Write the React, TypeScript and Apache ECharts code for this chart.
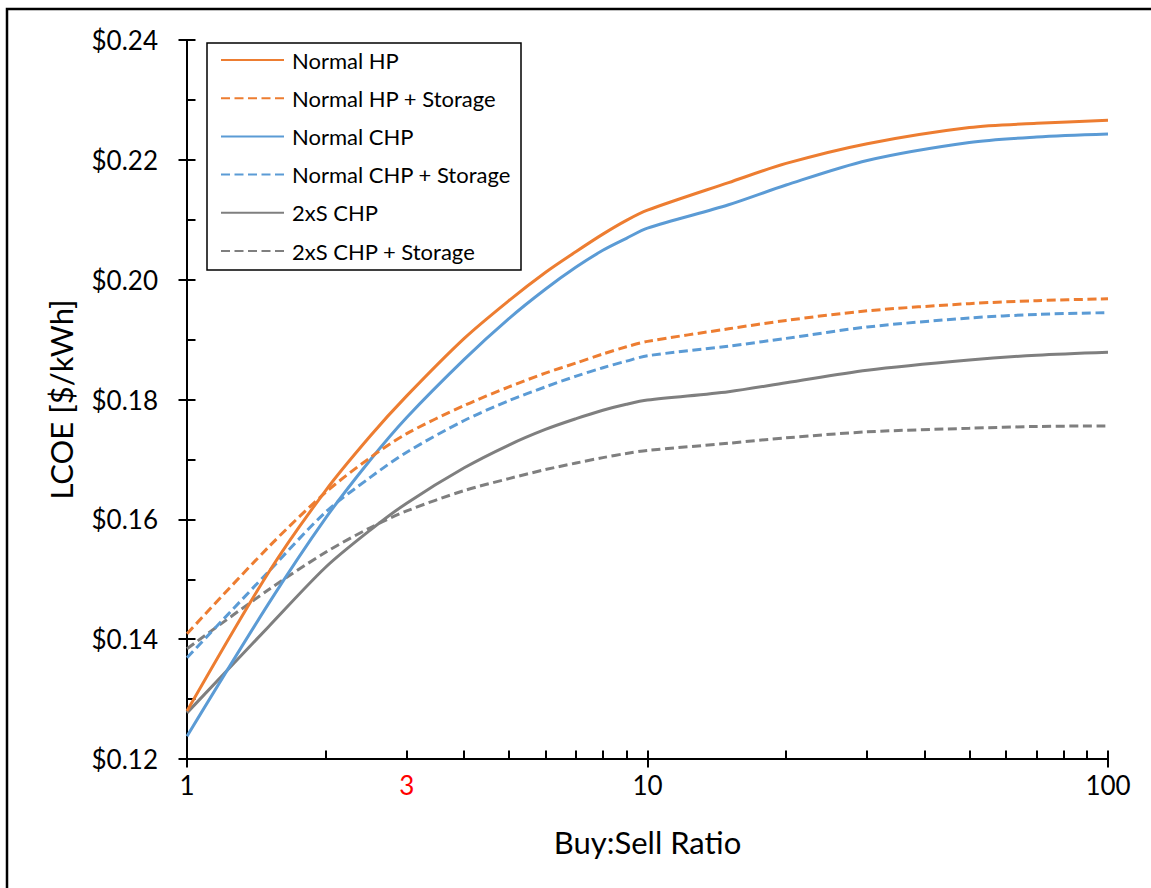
import React, { useEffect, useRef } from "react";
import * as echarts from "echarts";

const ratios = [1, 1.5, 2, 2.5, 3, 4, 5, 6, 7, 8, 9, 10, 15, 20, 30, 50, 70, 100];

const normalHP = [0.128, 0.151, 0.1648, 0.1739, 0.1806, 0.1902, 0.1965, 0.2012, 0.2047, 0.2076, 0.2099, 0.2116, 0.2162, 0.2194, 0.2227, 0.2254, 0.2261, 0.2266];
const normalHPStorage = [0.1409, 0.1553, 0.1645, 0.1703, 0.1743, 0.179, 0.1821, 0.1844, 0.1861, 0.1876, 0.1888, 0.1897, 0.1918, 0.1932, 0.1948, 0.196, 0.1965, 0.1968];
const normalCHP = [0.1238, 0.1458, 0.1602, 0.1699, 0.177, 0.1867, 0.1935, 0.1984, 0.2021, 0.2049, 0.2069, 0.2086, 0.2125, 0.2158, 0.2199, 0.2229, 0.2238, 0.2243];
const normalCHPStorage = [0.1369, 0.1512, 0.1612, 0.167, 0.1712, 0.1765, 0.1798, 0.1821, 0.1839, 0.1853, 0.1864, 0.1873, 0.1889, 0.1902, 0.1921, 0.1936, 0.1942, 0.1945];
const twoXSCHP = [0.1277, 0.142, 0.152, 0.1582, 0.1627, 0.1686, 0.1724, 0.175, 0.1768, 0.1782, 0.1792, 0.1799, 0.1813, 0.1828, 0.1849, 0.1866, 0.1874, 0.1879];
const twoXSCHPStorage = [0.1384, 0.1482, 0.1545, 0.1586, 0.1614, 0.1648, 0.1668, 0.1683, 0.1694, 0.1703, 0.171, 0.1715, 0.1727, 0.1736, 0.1746, 0.1752, 0.1755, 0.1756];

const seriesNames = [
  "Normal HP",
  "Normal HP + Storage",
  "Normal CHP",
  "Normal CHP + Storage",
  "2xS CHP",
  "2xS CHP + Storage",
];
const seriesValues = [normalHP, normalHPStorage, normalCHP, normalCHPStorage, twoXSCHP, twoXSCHPStorage];
const seriesColors = ["#ED7D31", "#ED7D31", "#5B9BD5", "#5B9BD5", "#7F7F7F", "#7F7F7F"];
const seriesDashed = [false, true, false, true, false, true];

const xLabelValues = [1, 3, 10, 100];
const xMinorTickValues = [1, 2, 3, 4, 5, 6, 7, 8, 9, 10, 20, 30, 40, 50, 60, 70, 80, 90, 100];

const FONT = "Lato, 'Noto Sans', sans-serif";

export default function App() {
  const ref = useRef<HTMLDivElement>(null);

  useEffect(() => {
    if (!ref.current) return;
    const chart = echarts.init(ref.current, null, { renderer: "svg" });

    const series = seriesNames.map((name, i) => ({
      name,
      type: "line",
      xAxisIndex: 0,
      yAxisIndex: 0,
      data: ratios.map((r, j) => [r, seriesValues[i][j]]),
      symbol: "none",
      showSymbol: false,
      smooth: 0.3,
      lineStyle: {
        color: seriesColors[i],
        width: 3,
        type: seriesDashed[i] ? [9, 4.5] : "solid",
      },
      itemStyle: { color: seriesColors[i] },
      z: 10 - i,
    }));

    chart.setOption({
      animation: false,
      backgroundColor: "#ffffff",
      grid: { left: 187, right: 43, top: 40, bottom: 129, containLabel: false },
      legend: {
        orient: "vertical",
        left: 207,
        top: 43,
        padding: [6, 13, 6, 13],
        itemGap: 16.2,
        itemWidth: 63,
        itemHeight: 2,
        itemStyle: { opacity: 0 },
        data: seriesNames,
        textStyle: {
          fontFamily: FONT,
          fontSize: 22,
          color: "#000",
          padding: [0, 0, 0, 3],
        },
      },
      xAxis: [
        {
          type: "log",
          logBase: 10,
          min: 1,
          max: 100,
          name: "Buy:Sell Ratio",
          nameLocation: "middle",
          nameGap: 67,
          nameTextStyle: { fontFamily: FONT, fontSize: 31, color: "#000" },
          axisLine: { show: true, lineStyle: { color: "#000", width: 2 } },
          axisTick: { show: true, inside: false, length: 8.5, lineStyle: { color: "#000", width: 2 } },
          axisLabel: {
            customValues: xLabelValues,
            margin: 13,
            fontFamily: FONT,
            fontSize: 26,
            color: "#000",
            formatter: (v: number) => (Math.abs(v - 3) < 1e-6 ? "{r|3}" : String(Math.round(v))),
            rich: { r: { color: "#FF0000", fontFamily: FONT, fontSize: 26 } },
          },
          splitLine: { show: false },
          minorTick: { show: false },
        },
        {
          type: "log",
          logBase: 10,
          min: 1,
          max: 100,
          position: "bottom",
          axisLine: { show: false },
          axisTick: {
            show: true,
            inside: true,
            length: 8.5,
            customValues: xMinorTickValues,
            lineStyle: { color: "#000", width: 2 },
          },
          axisLabel: { show: false },
          splitLine: { show: false },
        },
      ],
      yAxis: [
        {
          type: "value",
          min: 0.12,
          max: 0.24,
          interval: 0.02,
          name: "LCOE [$/kWh]",
          nameLocation: "middle",
          nameRotate: 90,
          nameGap: 111,
          nameTextStyle: { fontFamily: FONT, fontSize: 31, color: "#000" },
          axisLine: { show: true, lineStyle: { color: "#000", width: 2 } },
          axisTick: { show: true, inside: false, length: 8.5, lineStyle: { color: "#000", width: 2 } },
          axisLabel: {
            margin: 29,
            fontFamily: FONT,
            fontSize: 26,
            color: "#000",
            formatter: (v: number) => "$" + v.toFixed(2),
          },
          splitLine: { show: false },
        },
        {
          type: "value",
          min: 0.12,
          max: 0.24,
          interval: 0.01,
          position: "left",
          axisLine: { show: false },
          axisTick: { show: true, inside: true, length: 8.5, lineStyle: { color: "#000", width: 2 } },
          axisLabel: { show: false },
          splitLine: { show: false },
        },
      ],
      graphic: [
        {
          type: "rect",
          silent: true,
          shape: { x: 7, y: 9, width: 1300, height: 1000 },
          style: { fill: "none", stroke: "#000", lineWidth: 2.5 },
        },
        {
          type: "rect",
          silent: true,
          shape: { x: 207, y: 43, width: 314, height: 227 },
          style: { fill: "none", stroke: "#000", lineWidth: 1.5 },
        },
      ],
      series,
    });

    return () => chart.dispose();
  }, []);

  return (
    <div
      ref={ref}
      style={{ position: "absolute", left: 0, top: 0, width: 1151, height: 888 }}
    />
  );
}
